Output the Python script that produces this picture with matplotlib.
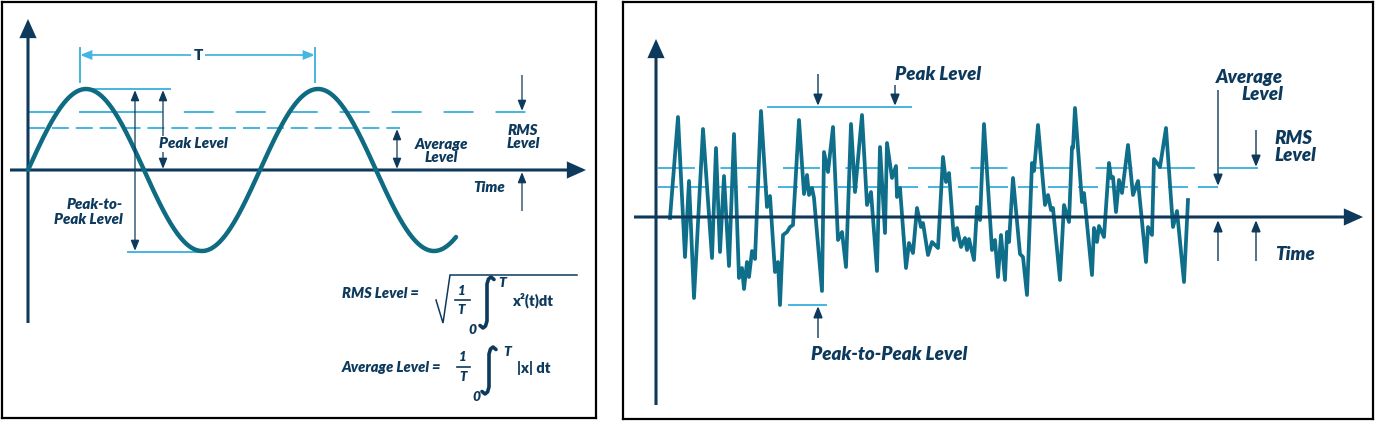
import numpy as np
import matplotlib
matplotlib.use("Agg")
import matplotlib.pyplot as plt
from matplotlib.patches import FancyArrowPatch

plt.rcParams['font.family'] = ['Lato', 'DejaVu Sans']
plt.rcParams['lines.scale_dashes'] = False

W, H, DPI = 1376, 421, 100

NAVY = '#0d3a5c'
TEAL = '#0f6b82'
NOISE = '#0f6f8a'
LIGHT = '#45b6e0'

# ---------------- data ----------------
# Left panel: sine wave (time and amplitude in drawing units)
sine_period = 232.0
sine_amp = 81.0
sine_end = 428.0
left_peak = 81.0
left_rms = 58.0
left_avg = 42.0
left_trough = -82.0

# Right panel: random-like signal
noise_t = [14, 22, 29, 33, 38, 47, 56, 60, 64, 68, 73, 78, 83, 86, 88, 91, 93, 96, 99,
           105, 111, 114, 119, 122, 124, 127, 131, 134, 137, 143, 148, 151, 153, 156, 158,
           166, 168, 172, 177, 182, 186, 190, 195, 199, 206, 211, 215, 221, 224, 229, 231,
           236, 240, 241, 244, 250, 253, 257, 261, 265, 267, 272, 276, 282, 287, 290, 293,
           298, 301, 305, 309, 311, 313, 318, 321, 324, 328, 336, 339, 342, 345, 349, 351,
           353, 357, 364, 367, 371, 376, 378, 382, 389, 392, 395, 397, 404, 408, 413, 416,
           417, 419, 426, 428, 436, 438, 441, 443, 448, 453, 455, 457, 460, 463, 466, 472,
           477, 482, 490, 492, 496, 498, 504, 510, 517, 521, 528, 532]
noise_v = [-1, 100, -40, 36, -81, 88, -41, 69, -35, 41, -49, 83, -61, -51, -72, -45, -60,
           -34, -42, 106, 10, 21, -55, -45, -88, -18, -15, -10, -8, 97, 23, 42, 22, 29, 19,
           -74, 65, 45, 90, -23, -15, -50, 93, 25, 102, 12, 25, -54, 70, -16, 74, 39, 51,
           20, 29, -51, -26, -36, 9, -10, -6, -38, -25, -31, 60, 35, 44, -23, -11, -30, -21,
           -33, -22, -43, 10, -3, 93, -33, -23, -60, -18, -63, -15, -25, 39, -37, -40, -78,
           54, 46, 92, 12, 22, 7, 9, -63, 12, -5, 70, 69, 109, 15, 24, -58, -11, -25, -9,
           -20, 54, 39, 40, 5, 37, 24, 72, 22, 36, -45, -10, -18, 58, 50, 89, -10, 6, -65, 17]
right_peak = 110.0
right_rms = 49.0
right_avg = 30.0
right_trough = -88.0

# ---------------- figure ----------------
fig = plt.figure(figsize=(W / DPI, H / DPI), dpi=DPI)
fig.patch.set_facecolor('white')


def panel(px0, py0, px1, py1, ox, oy):
    ax = fig.add_axes([px0 / W, 1 - py1 / H, (px1 - px0) / W, (py1 - py0) / H])
    ax.set_xlim(px0 - ox, px1 - ox)
    ax.set_ylim(oy - py1, oy - py0)
    ax.set_xticks([])
    ax.set_yticks([])
    for s in ax.spines.values():
        s.set_linewidth(1.6)
        s.set_color('black')
    return ax


axL = panel(2, 2, 596, 418, 28, 170)
axR = panel(623, 2, 1373, 419, 656, 217)


def Lx(p):
    return p - 28


def Ly(p):
    return 170 - p


def Rx(p):
    return p - 656


def Ry(p):
    return 217 - p


def arrow(ax, p0, p1, color, lw, style, ms=10, z=5):
    ax.add_patch(FancyArrowPatch(p0, p1, arrowstyle=style, mutation_scale=ms,
                                 color=color, lw=lw, shrinkA=0, shrinkB=0, zorder=z,
                                 joinstyle='miter', capstyle='butt'))


THIN = '-|>,head_length=0.65,head_width=0.26'
THIN2 = '<|-|>,head_length=0.65,head_width=0.26'
AXIS = '-|>,head_length=1.0,head_width=0.45'

TXT = dict(color=NAVY, fontweight='heavy', fontstyle='italic')

# ================= LEFT PANEL =================
ax = axL
# axes
arrow(ax, (Lx(28), Ly(323)), (Lx(28), Ly(19)), NAVY, 2.2, AXIS, 10, 3)
arrow(ax, (Lx(10), Ly(170)), (Lx(586), Ly(170)), NAVY, 2.2, AXIS, 10, 3)

# sine
t = np.linspace(0, sine_end, 900)
ax.plot(t, sine_amp * np.sin(2 * np.pi * t / sine_period), color=TEAL, lw=3.2,
        solid_capstyle='round', zorder=4)

# level lines
ax.plot([Lx(80), Lx(170)], [left_peak, left_peak], color=LIGHT, lw=1.4, zorder=2)
ax.plot([Lx(128), Lx(205)], [left_trough, left_trough], color=LIGHT, lw=1.4, zorder=2)
ax.plot([Lx(28), Lx(527)], [left_rms, left_rms], color=LIGHT, lw=1.4,
        dashes=(21.6, 15.8), zorder=2)
ax.plot([Lx(80), Lx(162)], [left_rms, left_rms], color=LIGHT, lw=1.4, zorder=2)
ax.plot([Lx(28), Lx(400)], [left_avg, left_avg], color=LIGHT, lw=1.4,
        dashes=(12.2, 5.0), zorder=2)

# T period marker
ax.plot([Lx(80), Lx(80)], [Ly(48), Ly(82)], color=LIGHT, lw=1.4, zorder=2)
ax.plot([Lx(315), Lx(315)], [Ly(48), Ly(82)], color=LIGHT, lw=1.4, zorder=2)
arrow(ax, (Lx(80), Ly(55)), (Lx(315), Ly(55)), LIGHT, 1.3, THIN2, 10, 2)
ax.text(Lx(198), Ly(56), 'T', fontsize=11, color=NAVY, fontweight='heavy',
        ha='center', va='center', zorder=6,
        bbox=dict(facecolor='white', edgecolor='none', pad=2))

# peak-to-peak arrow
arrow(ax, (Lx(135), Ly(251)), (Lx(135), Ly(90)), NAVY, 0.9, THIN2, 10, 5)
# peak arrow
arrow(ax, (Lx(163), Ly(169)), (Lx(163), Ly(90)), NAVY, 0.9, THIN2, 10, 5)
ax.text(Lx(193), Ly(144), 'Peak Level', fontsize=10.8, ha='center', va='center', zorder=6,
        bbox=dict(facecolor='white', edgecolor='none', pad=1.0), **TXT)
# average arrow
arrow(ax, (Lx(397), Ly(169)), (Lx(397), Ly(129)), NAVY, 0.9, THIN2, 10, 5)
ax.text(Lx(441), Ly(151), 'Average\nLevel', fontsize=10.8, ha='center', va='center',
        linespacing=1.0, **TXT)
# RMS arrows
arrow(ax, (Lx(522), Ly(75)), (Lx(522), Ly(111)), NAVY, 0.9, THIN, 10, 5)
arrow(ax, (Lx(522), Ly(211)), (Lx(522), Ly(172)), NAVY, 0.9, THIN, 10, 5)
ax.text(Lx(523), Ly(137), 'RMS\nLevel', fontsize=10.8, ha='center', va='center',
        linespacing=1.0, **TXT)
ax.text(Lx(489), Ly(188), 'Time', fontsize=10.8, ha='center', va='center', **TXT)
ax.text(Lx(123), Ly(212), 'Peak-to-\nPeak Level', fontsize=10.8, ha='right', va='center',
        linespacing=1.15, **TXT)


def integral(ax, xc, ytop, ybot):
    xs = [xc + 7, xc + 4, xc + 1.5, xc, xc, xc - 1.5, xc - 4, xc - 7]
    ys = [ytop + 2.5, ytop, ytop + 2, ytop + 7, ybot - 7, ybot - 2, ybot, ybot - 2.5]
    ax.plot([Lx(x) for x in xs], [Ly(y) for y in ys], color=NAVY, lw=2.6,
            solid_joinstyle='round', solid_capstyle='round')


FTXT = dict(color=NAVY, fontweight='heavy', fontstyle='italic')
# RMS formula
ax.text(Lx(342), Ly(293), 'RMS Level =', fontsize=10.5, ha='left', va='center', **FTXT)
ax.plot([Lx(436), Lx(443), Lx(450), Lx(577)], [Ly(300), Ly(323), Ly(275), Ly(275)],
        color=NAVY, lw=1.1, solid_joinstyle='miter')
ax.text(Lx(462), Ly(291), '1', fontsize=9.5, ha='center', va='center', **FTXT)
ax.plot([Lx(455), Lx(470)], [Ly(300), Ly(300)], color=NAVY, lw=1.2)
ax.text(Lx(461), Ly(310), 'T', fontsize=9.5, ha='center', va='center', **FTXT)
integral(ax, 487, 277, 328)
ax.text(Lx(502), Ly(283), 'T', fontsize=10, ha='center', va='center', **FTXT)
ax.text(Lx(472), Ly(330), '0', fontsize=10, ha='center', va='center', **FTXT)
ax.text(Lx(512), Ly(300), 'x\u00b2(t)dt', fontsize=10.5, ha='left', va='center',
        color=NAVY, fontweight='heavy')

# Average formula
ax.text(Lx(342), Ly(368), 'Average Level =', fontsize=10.5, ha='left', va='center', **FTXT)
ax.text(Lx(463), Ly(357), '1', fontsize=9.5, ha='center', va='center', **FTXT)
ax.plot([Lx(457), Lx(470)], [Ly(367), Ly(367)], color=NAVY, lw=1.2)
ax.text(Lx(463), Ly(377), 'T', fontsize=9.5, ha='center', va='center', **FTXT)
integral(ax, 489, 347, 394)
ax.text(Lx(507), Ly(352), 'T', fontsize=10, ha='center', va='center', **FTXT)
ax.text(Lx(476), Ly(397), '0', fontsize=10, ha='center', va='center', **FTXT)
ax.text(Lx(517), Ly(368), '|x| dt', fontsize=10.5, ha='left', va='center',
        color=NAVY, fontweight='heavy')

# ================= RIGHT PANEL =================
ax = axR
arrow(ax, (Rx(656), Ry(405)), (Rx(656), Ry(39)), NAVY, 2.2, AXIS, 10, 6)
arrow(ax, (Rx(634), Ry(217)), (Rx(1363), Ry(217)), NAVY, 2.2, AXIS, 10, 6)

ax.plot(noise_t, noise_v, color=NOISE, lw=2.7, solid_joinstyle='round', zorder=4)

# level lines
ax.plot([Rx(768), Rx(911)], [right_peak, right_peak], color=LIGHT, lw=1.4, zorder=2)
ax.plot([Rx(789), Rx(826)], [right_trough, right_trough], color=LIGHT, lw=1.4, zorder=2)
ax.plot([Rx(658), Rx(1195)], [right_rms, right_rms], color=LIGHT, lw=1.4,
        dashes=(26.6, 18.4), zorder=2)
ax.plot([Rx(1220), Rx(1257)], [right_rms, right_rms], color=LIGHT, lw=1.4, zorder=2)
ax.plot([Rx(658), Rx(1225)], [right_avg, right_avg], color=LIGHT, lw=1.4,
        dashes=(14.4, 7.2), zorder=2)

# arrows
arrow(ax, (Rx(818), Ry(74)), (Rx(818), Ry(106)), NAVY, 1.0, THIN, 11, 5)
arrow(ax, (Rx(895), Ry(85)), (Rx(895), Ry(106)), NAVY, 1.0, THIN, 11, 5)
arrow(ax, (Rx(818), Ry(338)), (Rx(818), Ry(306)), NAVY, 1.0, THIN, 11, 5)
arrow(ax, (Rx(1218), Ry(90)), (Rx(1218), Ry(186)), NAVY, 1.0, THIN, 11, 5)
arrow(ax, (Rx(1256), Ry(130)), (Rx(1256), Ry(167)), NAVY, 1.0, THIN, 11, 5)
arrow(ax, (Rx(1218), Ry(261)), (Rx(1218), Ry(220)), NAVY, 1.0, THIN, 11, 5)
arrow(ax, (Rx(1256), Ry(261)), (Rx(1256), Ry(220)), NAVY, 1.0, THIN, 11, 5)

RS = 13.5
ax.text(Rx(895), Ry(75), 'Peak Level', fontsize=RS, ha='left', va='center', **TXT)
ax.text(Rx(1283), Ry(86), 'Average\nLevel', fontsize=RS, ha='right', va='center',
        multialignment='right', linespacing=1.0, **TXT)
ax.text(Rx(1274), Ry(147), 'RMS\nLevel', fontsize=RS, ha='left', va='center',
        linespacing=1.0, **TXT)
ax.text(Rx(1275), Ry(255), 'Time', fontsize=RS, ha='left', va='center', **TXT)
ax.text(Rx(811), Ry(354), 'Peak-to-Peak Level', fontsize=RS, ha='left', va='center',
        **TXT)

fig.savefig('out.png', dpi=DPI, facecolor='white')
